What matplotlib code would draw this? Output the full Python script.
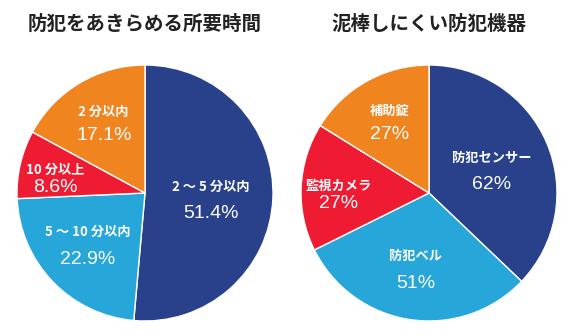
import matplotlib
matplotlib.use("Agg")
import matplotlib.pyplot as plt
import numpy as np

plt.rcParams['font.family'] = ['Noto Sans CJK JP', 'DejaVu Sans']

# Left chart: time until a burglar gives up
time_title = "防犯をあきらめる所要時間"
time_labels = ["2 ～ 5 分以内", "5 ～ 10 分以内", "10 分以上", "2 分以内"]
time_values = [51.4, 22.9, 8.6, 17.1]

# Right chart: devices that make burglary harder
device_title = "泥棒しにくい防犯機器"
device_labels = ["防犯センサー", "防犯ベル", "監視カメラ", "補助錠"]
device_values = [62, 51, 27, 27]

colors = ["#29418A", "#27A6DA", "#EE1B32", "#F0841F"]

W, H, DPI = 575, 335, 100
fig = plt.figure(figsize=(W / DPI, H / DPI), dpi=DPI)
fig.patch.set_facecolor("white")

R_PX = 128

# per-wedge label placement: radius, angle shift (deg), gap between the two lines
label_r = [0.52, 0.61, 0.71, 0.63]
label_dtheta = [-4.0, -1.3, 3.8, 0.0]
label_gap = [0.21, 0.22, 0.135, 0.18]


def draw_pie(cx, cy_top, title, labels, values, fmt):
    cy = H - cy_top
    ax = fig.add_axes([(cx - R_PX) / W, (cy - R_PX) / H, 2 * R_PX / W, 2 * R_PX / H])
    wedges, _ = ax.pie(values, colors=colors, startangle=90, counterclock=False,
                       radius=1.0,
                       wedgeprops=dict(edgecolor="white", linewidth=1.0))
    ax.set_xlim(-1, 1)
    ax.set_ylim(-1, 1)
    ax.set_aspect("equal")
    ax.axis("off")
    for w, lab, val, r, dt, gap in zip(wedges, labels, values,
                                       label_r, label_dtheta, label_gap):
        ang = np.deg2rad((w.theta1 + w.theta2) / 2 + dt)
        x, y = r * np.cos(ang), r * np.sin(ang)
        ax.text(x, y + gap / 2, lab, ha="center", va="center", color="white",
                fontsize=9.5, fontweight="bold")
        ax.text(x, y - gap / 2, fmt.format(val), ha="center", va="center",
                color="white", fontsize=14,
                family=["Liberation Sans", "Noto Sans CJK JP"])
    fig.text(cx / W, 1 - 24 / H, title, ha="center", va="center",
             fontsize=14, fontweight="bold", color="#222222")


draw_pie(145, 193, time_title, time_labels, time_values, "{:.1f}%")
draw_pie(429, 193, device_title, device_labels, device_values, "{:d}%")

fig.savefig("out.png", dpi=DPI, facecolor="white")
